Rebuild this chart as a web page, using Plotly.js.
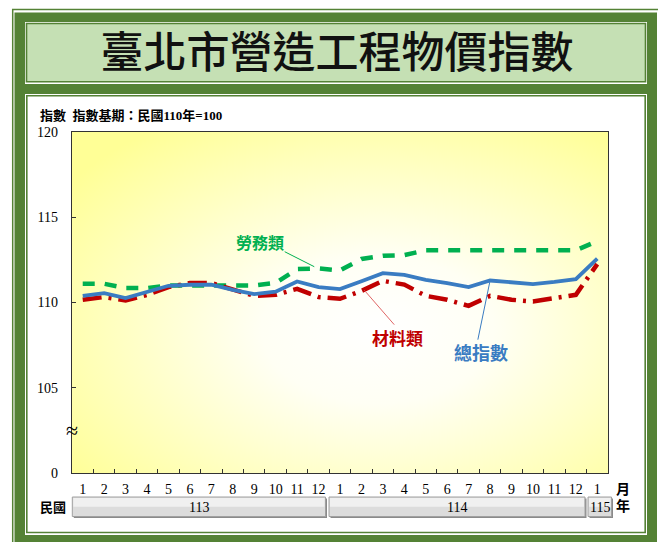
<!DOCTYPE html>
<html>
<head>
<meta charset="utf-8">
<script src="https://cdn.plot.ly/plotly-3.0.1.min.js"></script>
<style>html,body{margin:0;padding:0;background:#fff;}#chart{width:658px;height:542px;}</style>
</head>
<body>
<div id="chart"></div>
<script>
// ---- data ----
const monthLabels = ['1','2','3','4','5','6','7','8','9','10','11','12','1','2','3','4','5','6','7','8','9','10','11','12','1'];
const yearLabels = ['113','114','115'];
const totalIndex = [110.39,110.55,110.26,110.62,110.98,111.04,111.04,110.74,110.49,110.63,111.23,110.90,
                    110.79,111.25,111.72,111.62,111.33,111.14,110.90,111.29,111.16,111.08,111.21,111.37,
                    112.58];
const laborIndex = [111.10,111.10,110.85,110.85,111.00,111.00,111.00,111.00,111.00,111.15,111.96,112.00,
                    111.88,112.55,112.74,112.78,113.06,113.06,113.06,113.06,113.06,113.06,113.06,113.06,
                    113.60];
const materialIndex = [110.16,110.32,110.12,110.45,110.90,111.14,111.14,110.74,110.39,110.45,110.80,110.32,
                       110.22,110.68,111.27,111.05,110.39,110.16,109.80,110.39,110.16,110.06,110.27,110.45,
                       112.25];
const yTickVals = [100,105,110,115,120];
const yTickText = ['0','105','110','115','120'];

// ---- geometry helpers (pixel -> paper) ----
const W=658,H=542,L=72,R=50,T=132,B=69;
const PW=W-L-R, PH=H-T-B;
function px(x){return (x-L)/PW;}
function py(y){return (H-B-y)/PH;}
function rect(x0,y0,x1,y1,fill,line,lw){
  return {type:'rect',xref:'paper',yref:'paper',layer:'below',
    x0:px(x0),x1:px(x1),y0:py(y1),y1:py(y0),
    fillcolor:fill||'rgba(0,0,0,0)',
    line:{color:line||'rgba(0,0,0,0)',width:lw||0}};
}
function pline(x0,y0,x1,y1,color,w){
  return {type:'line',xref:'paper',yref:'paper',layer:'below',
    x0:px(x0),x1:px(x1),y0:py(y0),y1:py(y1),line:{color:color,width:w}};
}
const G='#548235';
const xIdx = monthLabels.map((_,i)=>i);

const shapes = [
  pline(12,9.5,658,9.5,G,1.5),
  pline(12.7,9,12.7,542,G,1.5),
  rect(14.5,12.5,657,545,G),
  rect(25,22,647,84,'#ffffff'),
  rect(26.5,23.5,645.5,81.8,'#c5e0b4',G,1.6),
  rect(25,94,647,535,'#ffffff'),
  rect(26.8,95.8,645.2,532.5,'#ffffff',G,1.6)
];
// year "buttons"
const btns = [[72.3,325.5],[329,585],[588,611.5]];
const by0=497, by1=516.5;
btns.forEach(b=>{
  shapes.push(rect(b[0]+1.5,by0+1.5,b[1]+1.5,by1+1.5,'#8a8a8a'));
  shapes.push(rect(b[0],by0,b[1],by1,'#dcdcdc','#a0a0a0',1));
  shapes.push(rect(b[0]+1,by0+1,b[1]-1,(by0+by1)/2,'#f0f0f0'));
});
// leader lines
shapes.push({type:'line',xref:'x',yref:'y',x0:9.42,y0:112.98,x1:10.8,y1:112.1,line:{color:'#00b050',width:1}});
shapes.push({type:'line',xref:'x',yref:'y',x0:14.53,y0:108.70,x1:13.14,y1:110.71,line:{color:'#e06666',width:1}});
shapes.push({type:'line',xref:'x',yref:'y',x0:18.43,y0:107.82,x1:19,y1:111.29,line:{color:'#3a7cc2',width:1}});

const serif='"Liberation Serif", "Times New Roman", serif';
const cjk='"Liberation Serif", "Noto Sans CJK TC", serif';

const annotations = [
  {xref:'paper',yref:'paper',x:px(38),y:py(115.7),xanchor:'left',yanchor:'middle',showarrow:false,
   text:'指數  指數基期：民國110年=100',font:{family:cjk,size:13,color:'#000',weight:'bold'}},
  {xref:'paper',yref:'y',x:0,y:102.5,xanchor:'center',yanchor:'middle',showarrow:false,
   text:'≈',font:{family:serif,size:22,color:'#000'}},
  {xref:'paper',yref:'paper',x:px(53),y:py(508),xanchor:'center',yanchor:'middle',showarrow:false,
   text:'民國',font:{family:cjk,size:13,color:'#000',weight:'bold'}},
  {xref:'paper',yref:'paper',x:px(623),y:py(489),xanchor:'center',yanchor:'middle',showarrow:false,
   text:'月',font:{family:cjk,size:14,color:'#000',weight:'bold'}},
  {xref:'paper',yref:'paper',x:px(623),y:py(506),xanchor:'center',yanchor:'middle',showarrow:false,
   text:'年',font:{family:cjk,size:14,color:'#000',weight:'bold'}},
  {xref:'x',yref:'y',x:8.27,y:113.49,showarrow:false,text:'勞務類',
   font:{family:cjk,size:16,color:'#00b050',weight:'bold'}},
  {xref:'x',yref:'y',x:14.68,y:107.84,showarrow:false,text:'材料類',
   font:{family:cjk,size:17,color:'#c00000',weight:'bold'}},
  {xref:'x',yref:'y',x:18.58,y:106.98,showarrow:false,text:'總指數',
   font:{family:cjk,size:18,color:'#3a7cc2',weight:'bold'}}
];
btns.forEach((b,i)=>{
  annotations.push({xref:'paper',yref:'paper',x:px((b[0]+b[1])/2),y:py(507.5),xanchor:'center',yanchor:'middle',
    showarrow:false,text:yearLabels[i],font:{family:serif,size:14,color:'#000'}});
});

const gradSvg = "<svg xmlns='http://www.w3.org/2000/svg' width='536' height='341' viewBox='0 0 536 341' preserveAspectRatio='none'>"+
 "<defs><radialGradient id='g' cx='0.57' cy='0.58' r='0.72'>"+
 "<stop offset='0' stop-color='#ffffff'/><stop offset='0.3' stop-color='#fffff4'/><stop offset='1' stop-color='#ffff96'/>"+
 "</radialGradient></defs><rect width='536' height='341' fill='url(#g)'/></svg>";
const gradUrl = 'data:image/svg+xml;charset=utf-8,'+encodeURIComponent(gradSvg);

const traces = [
  {x:xIdx,y:laborIndex,type:'scatter',mode:'lines',name:'勞務類',
   line:{color:'#00b050',width:4.5,dash:'12px,10px'},hoverinfo:'skip'},
  {x:xIdx,y:materialIndex,type:'scatter',mode:'lines',name:'材料類',
   line:{color:'#c00000',width:4.5,dash:'19px,7px,3px,7px'},hoverinfo:'skip'},
  {x:xIdx,y:totalIndex,type:'scatter',mode:'lines',name:'總指數',
   line:{color:'#3a7cc2',width:3.8},hoverinfo:'skip'},
  {x:[0],y:[100],xaxis:'x2',yaxis:'y',type:'scatter',mode:'markers',marker:{opacity:0},hoverinfo:'skip',showlegend:false}
];

const layout = {
  width:W,height:H,
  margin:{l:L,r:R,t:T,b:B,pad:0},
  paper_bgcolor:'#ffffff',
  plot_bgcolor:'rgba(0,0,0,0)',
  showlegend:false,
  title:{text:'臺北市營造工程物價指數',xref:'container',yref:'container',x:337/W,y:1-53/H,
    xanchor:'center',yanchor:'middle',font:{family:'"Noto Sans CJK TC", sans-serif',size:43,color:'#111',weight:500}},
  xaxis:{range:[-0.5,24.5],tickmode:'array',tickvals:xIdx,ticktext:monthLabels,ticks:'',
    showline:true,linecolor:'#333',linewidth:1.2,mirror:true,showgrid:false,zeroline:false,
    tickfont:{family:serif,size:14,color:'#000'},ticklabelstandoff:3,fixedrange:true},
  xaxis2:{range:[-0.5,24.5],overlaying:'x',side:'bottom',tickmode:'array',
    tickvals:xIdx.slice(0,24).map(v=>v+0.5),ticks:'inside',ticklen:4,tickcolor:'#333',tickwidth:1,
    showticklabels:false,showline:false,showgrid:false,zeroline:false,fixedrange:true},
  yaxis:{range:[100,120],tickmode:'array',tickvals:yTickVals,ticktext:yTickText,ticks:'inside',ticklen:4,
    tickcolor:'#333',showline:true,linecolor:'#333',linewidth:1.2,mirror:true,showgrid:false,zeroline:false,
    tickfont:{family:serif,size:14,color:'#000'},ticklabelstandoff:10,fixedrange:true},
  shapes:shapes,
  annotations:annotations,
  images:[{source:gradUrl,xref:'x',yref:'y',x:-0.5,y:120,sizex:25,sizey:20,sizing:'stretch',
    xanchor:'left',yanchor:'top',layer:'below'}]
};

Plotly.newPlot('chart',traces,layout,{displayModeBar:false,staticPlot:true});
</script>
</body>
</html>
